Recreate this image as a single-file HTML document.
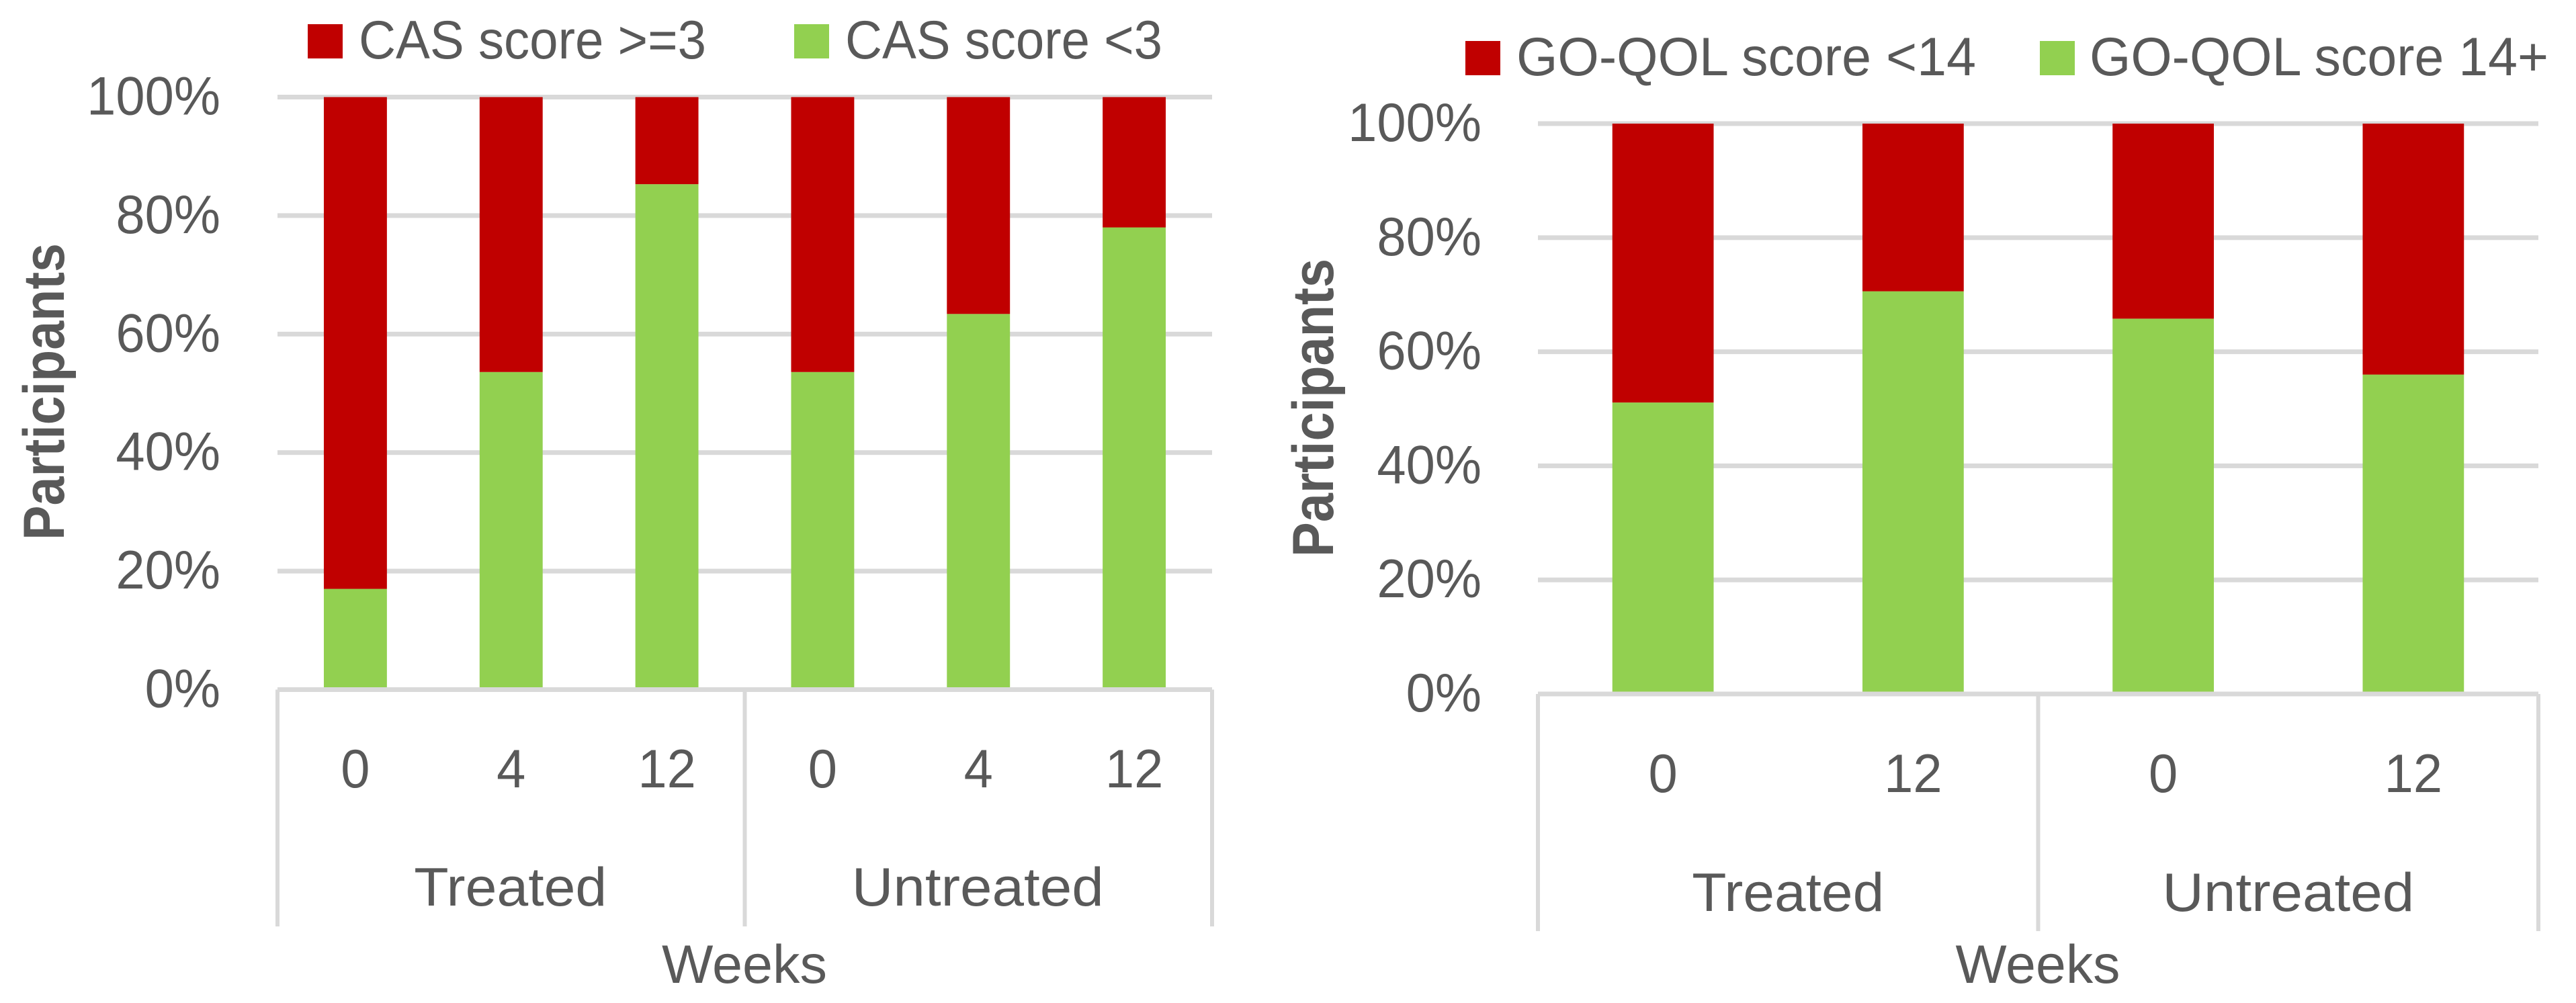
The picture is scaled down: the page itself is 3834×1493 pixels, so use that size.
<!DOCTYPE html>
<html lang="en">
<head>
<meta charset="utf-8">
<title>CAS and GO-QOL score charts</title>
<style>
html,body{margin:0;padding:0;background:#fff;}
svg{display:block;}
text{font-family:"Liberation Sans",sans-serif;fill:#595959;}
</style>
</head>
<body>
<svg id="figure" xmlns="http://www.w3.org/2000/svg" width="3834" height="1493" viewBox="0 0 3834 1493">
  <rect x="0" y="0" width="3834" height="1493" fill="#ffffff"/>
  <g id="cas-chart"></g>
  <g id="qol-chart"></g>
</svg>
<script>
// Shared axis values
const yTickValues = [0, 20, 40, 60, 80, 100];
const yTickLabels = ["0%", "20%", "40%", "60%", "80%", "100%"];
const groupLabels = ["Treated", "Untreated"];

// CAS chart data
const casWeeks = ["0", "4", "12", "0", "4", "12"];
const casBelow3 = [17, 53.6, 85.3, 53.6, 63.4, 78];
const casAtLeast3 = [83, 46.4, 14.7, 46.4, 36.6, 22];
const casSeriesNames = ["CAS score >=3", "CAS score <3"];

// GO-QOL chart data
const qolWeeks = ["0", "12", "0", "12"];
const qol14Plus = [51.1, 70.6, 65.8, 56];
const qolUnder14 = [48.9, 29.4, 34.2, 44];
const qolSeriesNames = ["GO-QOL score <14", "GO-QOL score 14+"];

const NS = "http://www.w3.org/2000/svg";
const RED = "#C00000", GREEN = "#92D050", GRID = "#D9D9D9";

function makeRect(parent, name, x, y, w, h, fill) {
  const el = document.createElementNS(NS, "rect");
  
  
  el.setAttribute("x", x);
  el.setAttribute("y", y);
  el.setAttribute("width", w);
  el.setAttribute("height", h);
  el.setAttribute("fill", fill);
  parent.appendChild(el);
  return el;
}

function makeText(parent, name, str, x, y, anchor, size, width, bold) {
  const el = document.createElementNS(NS, "text");
  
  
  el.setAttribute("x", x);
  el.setAttribute("y", y);
  el.setAttribute("text-anchor", anchor);
  el.setAttribute("font-size", size);
  if (bold) el.setAttribute("font-weight", "bold");
  el.textContent = str;
  parent.appendChild(el);
  if (width) {
    el.setAttribute("textLength", width);
    el.setAttribute("lengthAdjust", "spacingAndGlyphs");
  }
  return el;
}

function condense(el, factor) {
  const natural = el.getComputedTextLength();
  el.setAttribute("textLength", natural * factor);
  el.setAttribute("lengthAdjust", "spacingAndGlyphs");
}

function drawChart(root, cfg, weeks, lower, upper, names) {
  const n = weeks.length;
  const band = (cfg.right - cfg.left) / n;
  const xCenter = i => cfg.left + (i + 0.5) * band;
  const yScale = v => cfg.y0 - (v / 100) * (cfg.y0 - cfg.y100);
  const barW = band * 0.405;

  // gridlines and y tick labels
  yTickValues.forEach((v, i) => {
    if (v > 0) makeRect(root, "gridline-" + v, cfg.left, yScale(v) - 3.5, cfg.right - cfg.left, 7, GRID);
    const t = makeText(root, "y-tick-" + v, yTickLabels[i], cfg.tickX, yScale(v) + cfg.tickDy, "end", 81);
    condense(t, 0.96);
  });

  // stacked bars
  weeks.forEach((w, i) => {
    const x = xCenter(i) - barW / 2;
    makeRect(root, "bar-lower-" + i, x, yScale(lower[i]), barW, yScale(0) - yScale(lower[i]), GREEN);
    makeRect(root, "bar-upper-" + i, x, yScale(lower[i] + upper[i]), barW, yScale(lower[i]) - yScale(lower[i] + upper[i]), RED);
  });

  // category axis line and separators
  makeRect(root, "x-axis-line", cfg.left, cfg.y0 - 3.5, cfg.right - cfg.left, 7, GRID);
  [0, n / 2, n].forEach((k, i) => {
    makeRect(root, "group-separator-" + i, cfg.left + k * band - 3, cfg.y0, 6, cfg.sepBottom - cfg.y0, GRID);
  });

  // week labels and group labels
  weeks.forEach((w, i) => {
    const t = makeText(root, "week-label-" + i, w, xCenter(i), cfg.weekBase, "middle", 81);
    condense(t, 0.96);
  });
  groupLabels.forEach((g, i) => {
    const c = cfg.left + (i + 0.5) * (cfg.right - cfg.left) / 2 + cfg.groupDx;
    makeText(root, "group-label-" + g.toLowerCase(), g, c, cfg.groupBase, "middle", 81, cfg.groupWidths[i]);
  });

  // axis titles
  makeText(root, "x-axis-title", "Weeks", cfg.weeksX, 1463, "middle", 81, cfg.weeksWidth);
  const title = makeText(root, "y-axis-title", "Participants", 0, 0, "middle", 86, cfg.titleLen, true);
  title.setAttribute("transform", "translate(" + cfg.titleX + "," + cfg.titleY + ") rotate(-90)");

  // legend
  const colors = [RED, GREEN];
  names.forEach((name, i) => {
    const lg = cfg.legend[i];
    makeRect(root, "legend-swatch-" + i, lg.x, cfg.legendTop, 52, 51, colors[i]);
    makeText(root, "legend-label-" + i, name, lg.tx, cfg.legendTop + 51, "start", 81, lg.tw);
  });
}

drawChart(document.getElementById("cas-chart"), {
  left: 413, right: 1804, y0: 1026.5, y100: 144.5, sepBottom: 1379,
  tickX: 328, tickDy: 26, weekBase: 1172, groupBase: 1348, groupDx: -1,
  groupWidths: [287, 375], weeksX: 1108, weeksWidth: 246,
  titleX: 95, titleY: 583, titleLen: 442, legendTop: 36,
  legend: [{x: 458, tx: 534, tw: 517}, {x: 1182, tx: 1258, tw: 472}]
}, casWeeks, casBelow3, casAtLeast3, casSeriesNames);

drawChart(document.getElementById("qol-chart"), {
  left: 2289, right: 3778, y0: 1033, y100: 184, sepBottom: 1386,
  tickX: 2205, tickDy: 26, weekBase: 1179, groupBase: 1356, groupDx: 0,
  groupWidths: [286, 375], weeksX: 3033, weeksWidth: 245,
  titleX: 1984, titleY: 607, titleLen: 444, legendTop: 61,
  legend: [{x: 2181, tx: 2257, tw: 684}, {x: 3036, tx: 3110, tw: 683}]
}, qolWeeks, qol14Plus, qolUnder14, qolSeriesNames);
</script>
</body>
</html>
